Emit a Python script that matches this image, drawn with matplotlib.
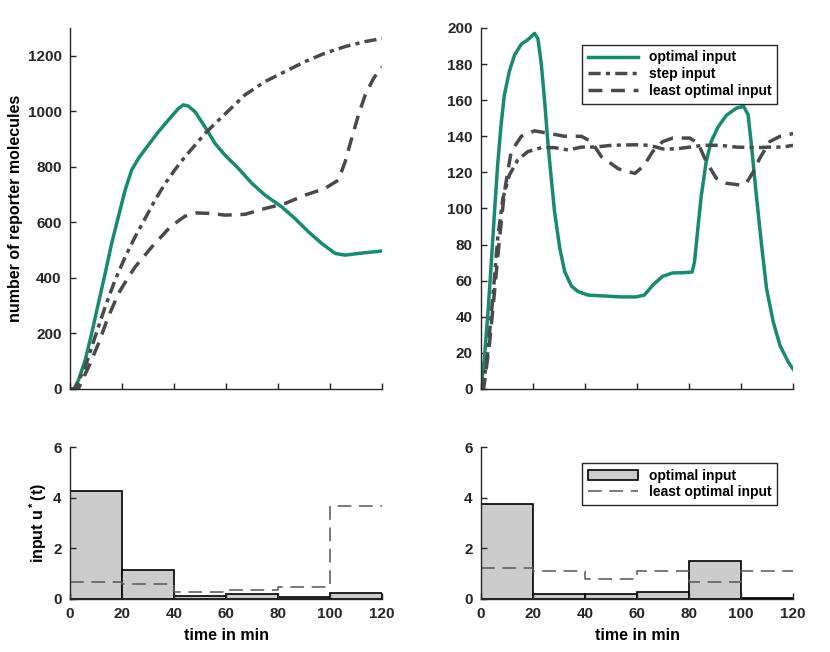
import matplotlib.pyplot as plt

plt.rcParams['font.family'] = ['Liberation Sans', 'DejaVu Sans']
plt.rcParams['font.weight'] = 'bold'
plt.rcParams['font.size'] = 10
plt.rcParams['mathtext.default'] = 'regular'

GREEN = '#188b6f'
GRAY = '#4a4a4a'

# top left: number of reporter molecules over time (min)
t_opt_l = [0, 1.5, 3.2, 5.8, 8.3, 10.9, 13.5, 16, 18.6, 21.2, 23.7, 26.3, 30.1, 34, 37.8, 41.7, 43.6,
           45.5, 48.1, 51.9, 55.8, 59.6, 64.7, 69.9, 75, 81.4, 86.5, 91.7, 96.8, 102, 105.8, 110.9, 120]
y_opt_l = [0, 0, 30, 102, 198, 307, 415, 523, 620, 716, 788, 830, 878, 926, 968, 1010, 1023,
           1019, 998, 944, 884, 842, 795, 741, 698, 656, 614, 566, 524, 488, 482, 488, 497]

t_step_l = [0, 1.9, 5.8, 9.6, 13.5, 17.3, 21.2, 25, 28.9, 32.7, 36.6, 40.4, 44.2, 48.1, 51.9, 55.8,
            59.6, 67.3, 75, 82.7, 90.4, 98, 105.8, 113.5, 120]
y_step_l = [0, 0, 78, 186, 295, 391, 475, 547, 614, 680, 740, 790, 836, 878, 920, 956,
            990, 1059, 1107, 1143, 1179, 1209, 1233, 1251, 1262]

t_least_l = [0, 3.2, 7.1, 10.9, 14.7, 18.6, 20.9, 25, 31.7, 38.8, 44.2, 48.7, 54.4, 59.6, 67.3, 75,
             82.7, 90.4, 98, 103.2, 105.8, 108.3, 110.9, 113.5, 116.7, 120]
y_least_l = [0, 0, 78, 162, 259, 343, 379, 439, 514, 586, 622, 634, 632, 626, 629, 650,
             668, 698, 722, 752, 818, 902, 986, 1058, 1118, 1160]

# top right
t_opt_r = [0, 1.3, 2.6, 3.9, 5.2, 6.4, 7.7, 9, 10.9, 12.9, 15.5, 18, 20.6, 21.9, 23.2, 24.5, 25.7,
           27, 28.3, 30.3, 32.2, 34.8, 37.3, 41.2, 47.6, 54, 59.6, 62.8, 66, 69.8, 73.7, 77.6, 81.2,
           82.1, 83.4, 84.7, 86.6, 88.5, 91.1, 94.3, 98.2, 101, 102.7, 104, 105.9, 107.9, 109.8,
           112.4, 115, 118.2, 120]
y_opt_r = [0, 16.7, 40.7, 68.5, 98, 124, 146, 163, 176, 185, 191, 193.5, 197, 194, 180, 159, 137,
           117, 98, 78, 65, 57, 54, 52, 51.5, 51, 51, 52, 57.4, 62.4, 64.3, 64.4, 64.8,
           70.4, 89, 107, 126, 137, 145, 151.5, 155.6, 156.5, 152, 135, 107, 79.6, 55.6,
           37, 24, 14.8, 11]

t_step_r = [0, 0.7, 2.6, 4.5, 6.4, 8.4, 10.9, 14.2, 18, 23.2, 28.3, 33.5, 38.6, 43.8, 50.2, 59.6,
            64.8, 69.9, 75, 80.3, 85.4, 91.8, 98.2, 105.9, 111, 116, 120]
y_step_r = [0, 0, 20, 50, 83, 105.5, 118.5, 127, 131.5, 133.7, 133.7, 132.4, 134, 134, 135, 135.3,
            135, 133, 133, 134, 135, 135, 134, 133.7, 134, 134, 135]

t_least_r = [0, 1, 3.2, 5.2, 7.1, 9, 11.6, 15.5, 20.6, 25.7, 32.2, 38.6, 42.5, 46.3, 52.8, 59.2,
             62.8, 66, 69.8, 73.7, 80.3, 83.5, 86.6, 90.5, 94.3, 99.5, 102, 104.6, 107.2, 111, 115, 120]
y_least_r = [0, 0, 24, 54, 83, 109, 131.5, 140, 143, 141.7, 140, 140, 137, 128.7, 122, 119.4,
             124, 131.5, 137, 139, 139, 136, 126, 116.7, 114, 113, 114, 120, 127.8, 137, 140, 141.5]

# bottom: piecewise constant inputs on 20 min intervals
edges = [0, 20, 40, 60, 80, 100]
u_opt_l = [4.25, 1.14, 0.13, 0.19, 0.09, 0.24]
u_least_l = [0.67, 0.58, 0.26, 0.34, 0.46, 3.68]
u_opt_r = [3.75, 0.21, 0.21, 0.29, 1.5, 0.02]
u_least_r = [1.22, 1.09, 0.8, 1.09, 0.68, 1.11]


def style_axes(ax, show_xlabels):
    ax.spines['top'].set_visible(False)
    ax.spines['right'].set_visible(False)
    for s in ['left', 'bottom']:
        ax.spines[s].set_color('#262626')
        ax.spines[s].set_linewidth(1.0)
    ax.tick_params(direction='in', length=4, width=1.0, colors='#262626', labelsize=11, pad=6)
    ax.set_xlim(0, 120)
    ax.set_xticks(range(0, 121, 20))
    if not show_xlabels:
        ax.set_xticklabels([])


fig = plt.figure(figsize=(8.3, 6.52), dpi=100)
ax1 = fig.add_axes([0.0843, 0.4034, 0.376, 0.5537])
ax2 = fig.add_axes([0.5795, 0.4034, 0.376, 0.5537])
ax3 = fig.add_axes([0.0843, 0.0813, 0.376, 0.2331])
ax4 = fig.add_axes([0.5795, 0.0813, 0.376, 0.2331])

dashdot = (0, (3.5, 1.5, 1.2, 1.5))
dashed = (0, (4, 2.5))

ax1.plot(t_opt_l, y_opt_l, color=GREEN, lw=2.5)
ax1.plot(t_step_l, y_step_l, color=GRAY, lw=2.5, linestyle=dashdot)
ax1.plot(t_least_l, y_least_l, color=GRAY, lw=2.5, linestyle=dashed)
ax1.set_ylim(0, 1300)
ax1.set_yticks(range(0, 1201, 200))
ax1.set_ylabel('number of reporter molecules', fontsize=11.5, fontweight='bold', labelpad=3)
style_axes(ax1, False)

ax2.plot(t_opt_r, y_opt_r, color=GREEN, lw=2.5, label='optimal input')
ax2.plot(t_step_r, y_step_r, color=GRAY, lw=2.5, linestyle=dashdot, label='step input')
ax2.plot(t_least_r, y_least_r, color=GRAY, lw=2.5, linestyle=dashed, label='least optimal input')
ax2.set_ylim(0, 200)
ax2.set_yticks(range(0, 201, 20))
style_axes(ax2, False)
leg = ax2.legend(loc='upper right', bbox_to_anchor=(0.949, 0.953), borderaxespad=0,
                 fancybox=False, edgecolor='#262626', framealpha=1, handlelength=3.6,
                 borderpad=0.4, labelspacing=0.2, fontsize=10)
leg.get_frame().set_linewidth(1.0)


def input_panel(ax, u_opt, u_least):
    bars = ax.bar(edges, u_opt, width=20, align='edge', color='#cccccc', edgecolor='black',
                  linewidth=1.2, label='optimal input')
    line, = ax.step(edges + [120], u_least + [u_least[-1]], where='post', color='#555555',
                    lw=1.1, linestyle=(0, (9, 5)), label='least optimal input')
    ax.set_ylim(0, 6)
    ax.set_yticks([0, 2, 4, 6])
    style_axes(ax, True)
    ax.set_xlabel('time in min', fontsize=11.5, fontweight='bold', labelpad=5)
    return bars, line


input_panel(ax3, u_opt_l, u_least_l)
ax3.set_ylabel('input u$^*$(t)', fontsize=11.5, fontweight='bold', labelpad=3)

bars, line = input_panel(ax4, u_opt_r, u_least_r)
leg2 = ax4.legend([bars, line], ['optimal input', 'least optimal input'], loc='upper right',
                  bbox_to_anchor=(0.949, 0.895), borderaxespad=0, fancybox=False,
                  edgecolor='#262626', framealpha=1, handlelength=3.6, borderpad=0.4,
                  labelspacing=0.2, fontsize=10)
leg2.get_frame().set_linewidth(1.0)

fig.savefig('out.png', dpi=100)
